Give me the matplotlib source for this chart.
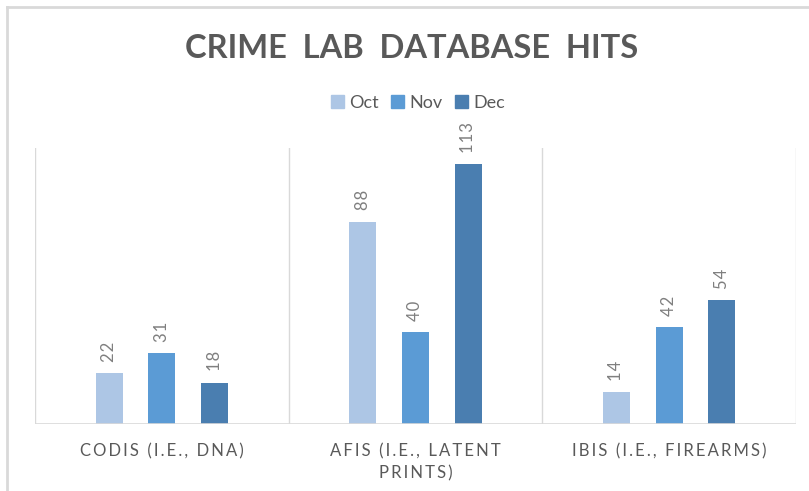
import matplotlib
matplotlib.use("Agg")
from matplotlib import pyplot as plt
from matplotlib.lines import Line2D
from matplotlib.patches import Patch

categories = ["CODIS (I.E., DNA)", "AFIS (I.E., LATENT\nPRINTS)", "IBIS (I.E., FIREARMS)"]
months = ["Oct", "Nov", "Dec"]
oct_vals = [22, 88, 14]
nov_vals = [31, 40, 42]
dec_vals = [18, 113, 54]
colors = ["#adc6e5", "#5b9bd5", "#4a7eb0"]

fam = ["Lato", "DejaVu Sans"]
gray = "#595959"


def spaced(s, sep="\u2009"):
    return "\n".join(sep.join(line) for line in s.split("\n"))


fig = plt.figure(figsize=(8.09, 4.91), dpi=100)
ax = fig.add_axes([35 / 809, 1 - 424 / 491, (796 - 35) / 809, (424 - 148) / 491])

# outer chart border (only top and left visible)
fig.add_artist(Line2D([7 / 809, 1], [1 - 7 / 491, 1 - 7 / 491], color="#d9d9d9", lw=2))
fig.add_artist(Line2D([7 / 809, 7 / 809], [0, 1 - 7 / 491], color="#d9d9d9", lw=2))

offsets = [-0.208, 0, 0.208]
width = 0.106
series = [oct_vals, nov_vals, dec_vals]
for k, vals in enumerate(series):
    xs = [i + offsets[k] for i in range(len(categories))]
    ax.bar(xs, vals, width=width, color=colors[k], zorder=3)
    for x, v in zip(xs, vals):
        ax.annotate(spaced(str(v), "\u200a"), (x, v), xytext=(0, 8), textcoords="offset points",
                    rotation=90, ha="center", va="bottom", fontsize=12,
                    color="#7f7f7f", family=fam)

ax.set_xlim(-0.5, 2.5)
ax.set_ylim(0, 120)
for g in [-0.5, 0.5, 1.5, 2.5]:
    ax.axvline(g, color="#d9d9d9", lw=1, zorder=1)
for s in ax.spines.values():
    s.set_visible(False)
ax.axhline(0, color="#d9d9d9", lw=1.2, zorder=4)
ax.set_yticks([])
ax.set_xticks(range(len(categories)))
ax.set_xticklabels([spaced(c) for c in categories], fontsize=12, color=gray,
                   family=fam, linespacing=1.45)
ax.tick_params(axis="x", length=0, pad=14)

fig.text(412 / 809, 1 - 48 / 491, "CRIME  LAB  DATABASE  HITS", ha="center",
         va="center", fontsize=23.5, fontweight="bold", color=gray, family=fam)

handles = [Patch(color=c) for c in colors]
fig.legend(handles, months, loc="center", bbox_to_anchor=(418 / 809, 1 - 103 / 491), ncol=3,
           frameon=False, handlelength=0.7, handleheight=0.7,
           handletextpad=0.3, columnspacing=0.7, labelcolor=gray, prop={"family": fam, "size": 13})

fig.savefig("out.png", dpi=100)
